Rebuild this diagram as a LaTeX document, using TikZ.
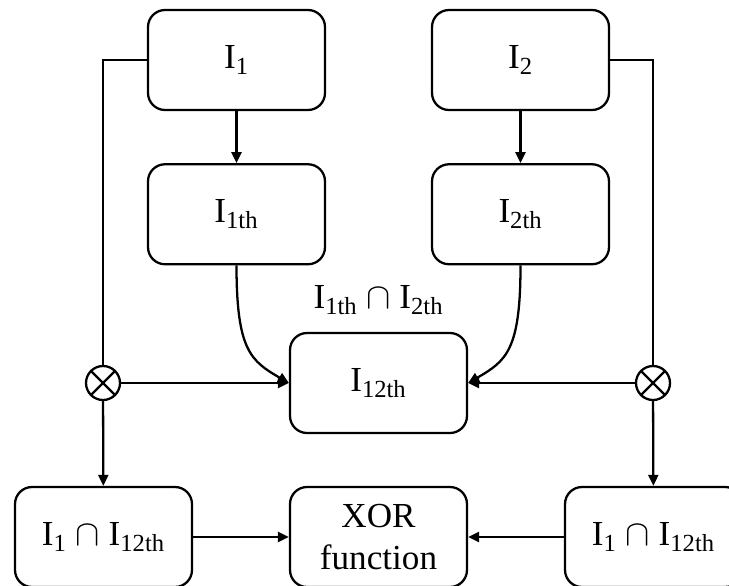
\documentclass[tikz,border=0pt]{standalone}
\usepackage{fontspec}
\usepackage{amsmath}
\setmainfont{Liberation Serif}
\usetikzlibrary{positioning, arrows.meta}
\newcommand{\img}[1]{I$_{\text{#1}}$}

\begin{document}
\begin{tikzpicture}[x=0.02cm, y=-0.02cm, >={Triangle[length=0.22cm, width=0.2cm]}, line width=1.3pt, every node/.style={font=\fontsize{20}{24}\selectfont}]
  \tikzset{block/.style={draw, rounded corners=0.34cm, minimum width=3.54cm, minimum height=2cm, align=center},
    mult/.style={draw, circle, minimum size=0.68cm, inner sep=0pt,
      path picture={\draw (path picture bounding box.north west) -- (path picture bounding box.south east)
        (path picture bounding box.north east) -- (path picture bounding box.south west);}}}
  \useasboundingbox (0,0) rectangle (729,585);

  \node[block] (i1) at (236.5,60) {\img{1}};
  \node[block, below=1.04cm of i1] (i1th) {\img{1th}};
  \node[block] (i2) at (520.5,60) {\img{2}};
  \node[block, below=1.04cm of i2] (i2th) {\img{2th}};
  \node[block] (i12th) at (378.5,383) {\img{12th}};
  \node (inter) at (378.5,300) {\img{1th} $\cap$ \img{2th}};

  \node[mult] (ox1) at (103,383) {};
  \node[mult] (ox2) at (653,383) {};

  \node[block] (and1) at (103.5,537) {\img{1} $\cap$ \img{12th}};
  \node[block] (xor) at (378.5,537) {XOR\\function};
  \node[block] (and2) at (653.5,537) {\img{1} $\cap$ \img{12th}};

  % inputs down to the thresholded images and round to the multipliers
  \draw (i1.west) -| (ox1.north);
  \draw (i2.east) -| (ox2.north);
  \draw[->] (i1) -- (i1th);
  \draw[->] (i2) -- (i2th);
  \draw[->] (i1th.south) .. controls +(0,85) and +(-38,-22) .. (i12th.west);
  \draw[->] (i2th.south) .. controls +(0,85) and +(38,-22) .. (i12th.east);
  \draw[->] (ox1) -- (i12th.west);
  \draw[->] (ox2) -- (i12th.east);

  \draw[->] (ox1) -- (and1);
  \draw[->] (ox2) -- (and2);
  \draw[->] (and1) -- (xor);
  \draw[->] (and2) -- (xor);
\end{tikzpicture}
\end{document}
